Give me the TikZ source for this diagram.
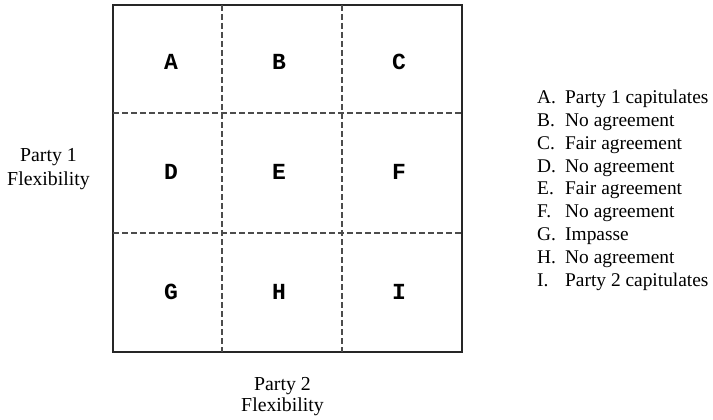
\documentclass[tikz,border=0pt]{standalone}
\usepackage{fontspec}
\setmainfont{Liberation Serif}
\newfontfamily\tagmono{Liberation Mono}

\begin{document}
\begin{tikzpicture}[
  x=1pt,
  y=-1pt,
  outerbox/.style={
    draw=black!85,
    line width=1.6pt
  },
  cellline/.style={
    draw=black!70,
    line width=1.1pt,
    dash pattern=on 6pt off 3pt
  },
  celltag/.style={
    inner sep=0pt,
    font=\tagmono\bfseries\fontsize{23}{23}\selectfont
  },
  legendtext/.style={
    anchor=base west,
    inner sep=0pt,
    font=\fontsize{19.4}{22}\selectfont
  },
  axislabel/.style={
    align=center,
    inner sep=0pt
  }
]

\useasboundingbox (0,0) rectangle (713,420);

\draw[outerbox] (113,5) rectangle (462,352);
\foreach \gx in {222,342} {
  \draw[cellline] (\gx,5) -- (\gx,352);
}
\foreach \gy in {113,233} {
  \draw[cellline] (113,\gy) -- (462,\gy);
}

\foreach \tag [count=\c from 0] in {A,B,C,D,E,F,G,H,I} {
  \pgfmathsetmacro{\colx}{{171,279,399}[mod(\c,3)]}
  \pgfmathsetmacro{\rowy}{{62,172,292}[int(\c/3)]}
  \node[celltag] (cell\tag) at (\colx,\rowy) {\tag};
}

\newcommand{\outcomerow}[3]{%
  \node[legendtext] (key#2) at (537,{103.3+22.9*#1}) {#2.};
  \node[legendtext] (outcome#2) at (565,{103.3+22.9*#1}) {#3};
}

\outcomerow{0}{A}{Party 1 capitulates}
\outcomerow{1}{B}{No agreement}
\outcomerow{2}{C}{Fair agreement}
\outcomerow{3}{D}{No agreement}
\outcomerow{4}{E}{Fair agreement}
\outcomerow{5}{F}{No agreement}
\outcomerow{6}{G}{Impasse}
\outcomerow{7}{H}{No agreement}
\outcomerow{8}{I}{Party 2 capitulates}

\node[axislabel, font=\fontsize{19.8}{23.5}\selectfont] (partyone) at (48.5,169) {Party 1\\Flexibility};
\node[axislabel, font=\fontsize{19.8}{21.7}\selectfont] (partytwo) at (282.5,396.5) {Party 2\\Flexibility};

\end{tikzpicture}
\end{document}
